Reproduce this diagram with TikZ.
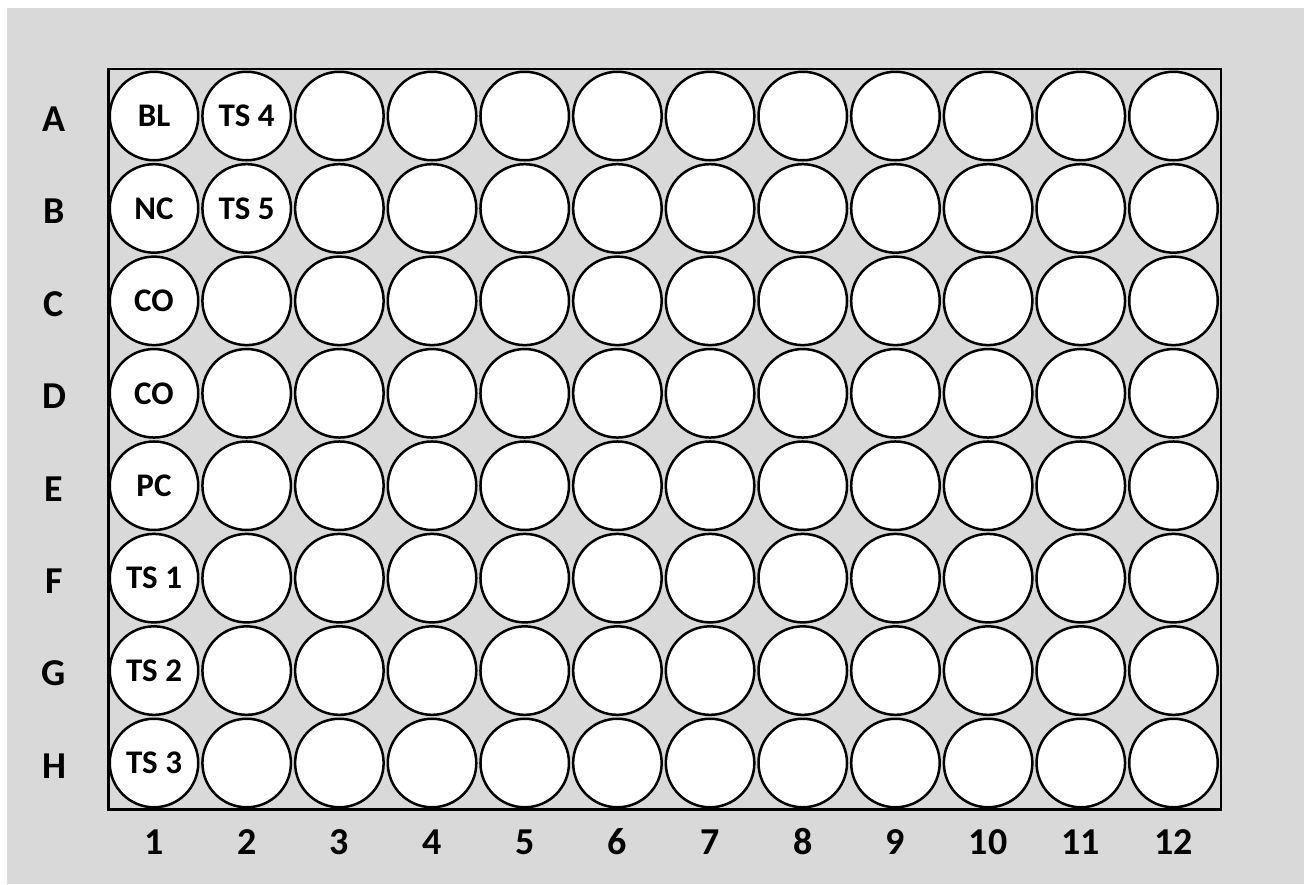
\documentclass[tikz,border=0pt]{standalone}
\usepackage{fontspec}
\setmainfont{Carlito}
\definecolor{bg}{HTML}{D9D9D9}
\begin{document}
\begin{tikzpicture}[x=1pt,y=-1pt,
  well/.style={circle,draw=black,fill=white,line width=2.5pt,minimum size=88.5pt,inner sep=0pt},
  welltext/.style={font=\bfseries\fontsize{33}{33}\selectfont,inner sep=0pt},
  axislabel/.style={font=\bfseries\fontsize{38}{38}\selectfont,inner sep=0pt}]
\useasboundingbox (0,0) rectangle (1304,884);
\fill[white] (0,0) rectangle (1304,884);
\fill[bg] (7,8) rectangle (1304,884);
\draw[line width=2.8pt] (108.5,69) rectangle (1221,809.5);
\foreach \r [count=\i from 0] in {A,B,C,D,E,F,G,H}{
  \node[axislabel] (row\r) at (54,{119+\i*92.43}) {\r};
  \foreach \c in {1,...,12}{
    \node[well] (w\r\c) at ({154+(\c-1)*92.68},{116+\i*92.43}) {};
  }
}
\foreach \c in {1,...,12}{
  \node[axislabel] (col\c) at ({154+(\c-1)*92.68},842) {\c};
}
\node[welltext] (tA1) at (wA1) {BL};
\node[welltext] (tB1) at (wB1) {NC};
\node[welltext] (tC1) at (wC1) {CO};
\node[welltext] (tD1) at (wD1) {CO};
\node[welltext] (tE1) at (wE1) {PC};
\node[welltext] (tF1) at (wF1) {TS 1};
\node[welltext] (tG1) at (wG1) {TS 2};
\node[welltext] (tH1) at (wH1) {TS 3};
\node[welltext] (tA2) at (wA2) {TS 4};
\node[welltext] (tB2) at (wB2) {TS 5};
\end{tikzpicture}
\end{document}
